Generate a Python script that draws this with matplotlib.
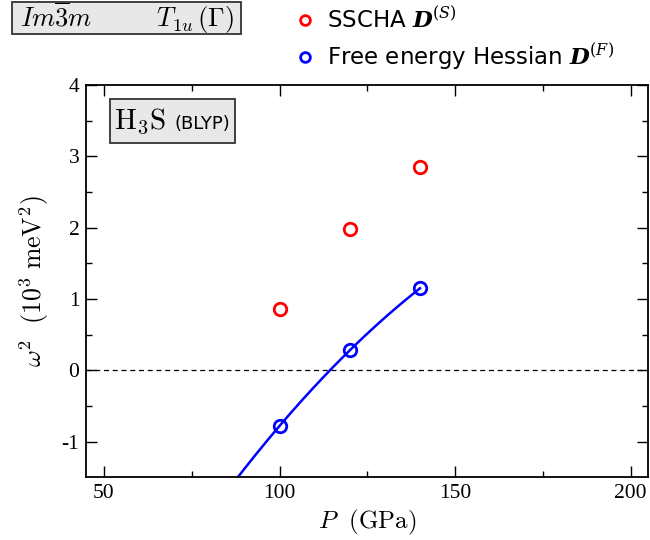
import numpy as np
import matplotlib
matplotlib.use("Agg")
import matplotlib.pyplot as plt
from matplotlib.patches import Rectangle
from matplotlib.lines import Line2D

plt.rcParams['mathtext.fontset'] = 'cm'
plt.rcParams['font.family'] = ['Liberation Serif', 'DejaVu Serif']
plt.rcParams['axes.unicode_minus'] = False

# pressures (GPa) and omega^2 (10^3 meV^2)
pressure = [100, 120, 140]
w2_sscha = [0.865, 1.98, 2.855]
w2_hessian = [-0.78, 0.28, 1.15]

fig = plt.figure(figsize=(6.5, 5.4), dpi=100)
ax = fig.add_axes([0.1328, 0.1161, 0.8646, 0.7265])

# quadratic fit through the hessian points
coef = np.polyfit(pressure, w2_hessian, 2)
pp = np.linspace(80, 140, 200)
ax.plot(pp, np.polyval(coef, pp), color='blue', lw=1.8, zorder=2)

ax.axhline(0, color='black', lw=0.9, ls=(0, (4, 3)), zorder=1)

ax.plot(pressure, w2_sscha, 'o', mfc='none', mec='red', ms=9, mew=2, zorder=3)
ax.plot(pressure, w2_hessian, 'o', mfc='none', mec='blue', ms=9, mew=2, zorder=3)

ax.set_xlim(45, 205)
ax.set_ylim(-1.5, 4)
ax.set_xticks([50, 100, 150, 200])
ax.set_xticks([75, 125, 175], minor=True)
ax.set_yticks([-1, 0, 1, 2, 3, 4])
ax.set_yticks([-0.5, 0.5, 1.5, 2.5, 3.5], minor=True)
ax.tick_params(which='both', direction='in', top=True, right=True, labelsize=15.5, width=1)
ax.tick_params(which='major', length=8, pad=5)
ax.tick_params(which='minor', length=4)
for s in ax.spines.values():
    s.set_linewidth(1.3)

ax.set_xlabel(r'$P\ \ (\mathrm{GPa})$', fontsize=18, labelpad=3)
ax.set_ylabel(r'$\omega^2\ \ (10^3\ \mathrm{meV}^2)$', fontsize=18.5, labelpad=8)

# H3S (BLYP) label
ax.add_patch(Rectangle((0.0422, 0.852), 0.222, 0.112, transform=ax.transAxes,
                       fc='#e8e8e8', ec='#333333', lw=1.3, zorder=4))
ax.text(0.049, 0.889, r'$\mathrm{H_3S}$', transform=ax.transAxes, fontsize=21,
        va='baseline', ha='left', zorder=5)
ax.text(0.157, 0.889, '(BLYP)', transform=ax.transAxes, fontsize=13, family='DejaVu Sans',
        va='baseline', ha='left', zorder=5)

# space group box
fig.patches.append(Rectangle((12 / 650, 1 - 34 / 540), 229 / 650, 32 / 540,
                             transform=fig.transFigure, fc='#e8e8e8', ec='#333333', lw=1.3, zorder=1))
fig.text(0.0308, 1 - 26.5 / 540, r'$Im\overline{3}m\qquad\;\;\; T_{1u}\,(\Gamma)$', fontsize=19,
         va='baseline', ha='left', zorder=5)

handles = [Line2D([], [], ls='none', marker='o', mfc='none', mec='red', ms=7, mew=2),
           Line2D([], [], ls='none', marker='o', mfc='none', mec='blue', ms=7, mew=2)]
labels = [r'SSCHA $\mathbfit{D}^{(S)}$', r'Free energy Hessian $\mathbfit{D}^{(F)}$']
leg = fig.legend(handles, labels, loc='upper left', bbox_to_anchor=(0.42, 1.025), frameon=False,
                 prop=dict(family='DejaVu Sans', size=16.5), handletextpad=0.45, labelspacing=0.4,
                 handlelength=1.0)
for t in leg.get_texts():
    t.set_math_fontfamily('dejavuserif')

fig.savefig('out.png', dpi=100)
